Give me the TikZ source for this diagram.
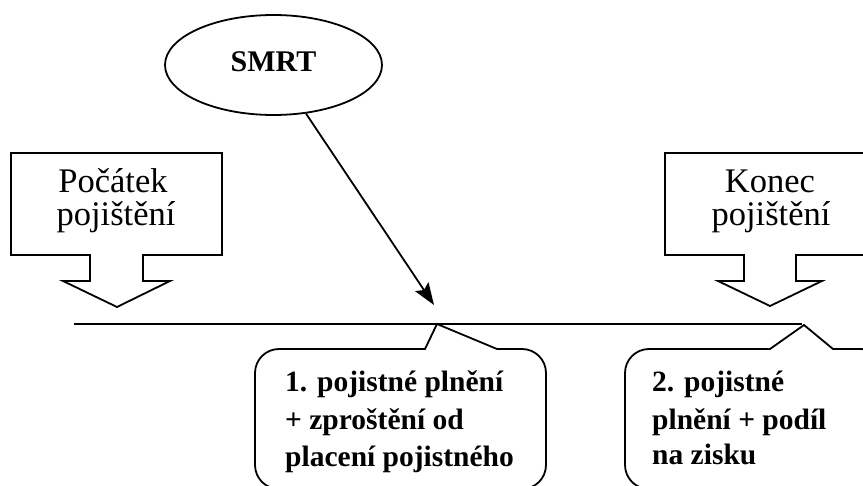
\documentclass[tikz,border=0pt]{standalone}
\usepackage{fontspec}
\setmainfont{Liberation Serif}
\usetikzlibrary{shapes.geometric,arrows.meta}
\begin{document}
\begin{tikzpicture}[x=1pt,y=-1pt,line join=miter,
  outline/.style={draw=black,line width=1.8pt},
  boxtext/.style={font=\fontsize{34.5}{38}\selectfont,inner sep=0pt,anchor=base},
  calltext/.style={font=\fontsize{29.5}{37}\selectfont\bfseries,inner sep=0pt,anchor=base west}]
  \useasboundingbox (0,0) rectangle (863,486);
  \clip (0,0) rectangle (863,486);

  % event ellipse
  \node[ellipse,outline,minimum width=217pt,minimum height=100pt,inner sep=0pt,
        font=\fontsize{30}{34}\selectfont\bfseries] (smrt) at (273.5,65) {\raisebox{6pt}{SMRT}};

  % start of insurance: box with a down arrow
  \draw[outline] (11,153) -- (222,153) -- (222,255) -- (143,255) -- (143,281) -- (170,281)
    -- (117,307) -- (63,281) -- (90,281) -- (90,255) -- (11,255) -- cycle;
  \node[boxtext] (pocatek) at (113,193) {Počátek};
  \node[boxtext] (pojist1) at (116,226) {pojištění};

  % end of insurance: box with a down arrow
  \draw[outline] (665,153) -- (880,153) -- (880,255) -- (796,255) -- (796,281) -- (822,281)
    -- (770,306) -- (718,281) -- (744,281) -- (744,255) -- (665,255) -- cycle;
  \node[boxtext] (konec) at (770,193) {Konec};
  \node[boxtext] (pojist2) at (771,226) {pojištění};

  % time axis
  \coordinate (axisL) at (74,324);
  \coordinate (axisR) at (802,324);
  \draw[outline] (axisL) -- (axisR);

  % death strikes the axis
  \coordinate (hit) at (434,305);
  \draw[outline,-{Stealth[length=22pt,width=16pt,inset=4pt]}] (smrt) -- (hit);

  % first benefit callout
  \draw[outline] (437,324) -- (425,349)
    [rounded corners=24pt] -- (255,349) -- (255,489) -- (546,489) -- (546,349)
    [sharp corners] -- (497,349) -- cycle;
  \node[calltext] (c1a) at (285,392) {1. pojistné plnění};
  \node[calltext] (c1b) at (285,430) {+ zproštění od};
  \node[calltext] (c1c) at (285,467) {placení pojistného};

  % second benefit callout
  \draw[outline] (804,325) -- (770,349)
    [rounded corners=24pt] -- (625,349) -- (625,489) -- (885,489) -- (885,349)
    [sharp corners] -- (833,349) -- cycle;
  \node[calltext] (c2a) at (652,392) {2. pojistné};
  \node[calltext] (c2b) at (652,430) {plnění + podíl};
  \node[calltext] (c2c) at (652,465) {na zisku};
\end{tikzpicture}
\end{document}
